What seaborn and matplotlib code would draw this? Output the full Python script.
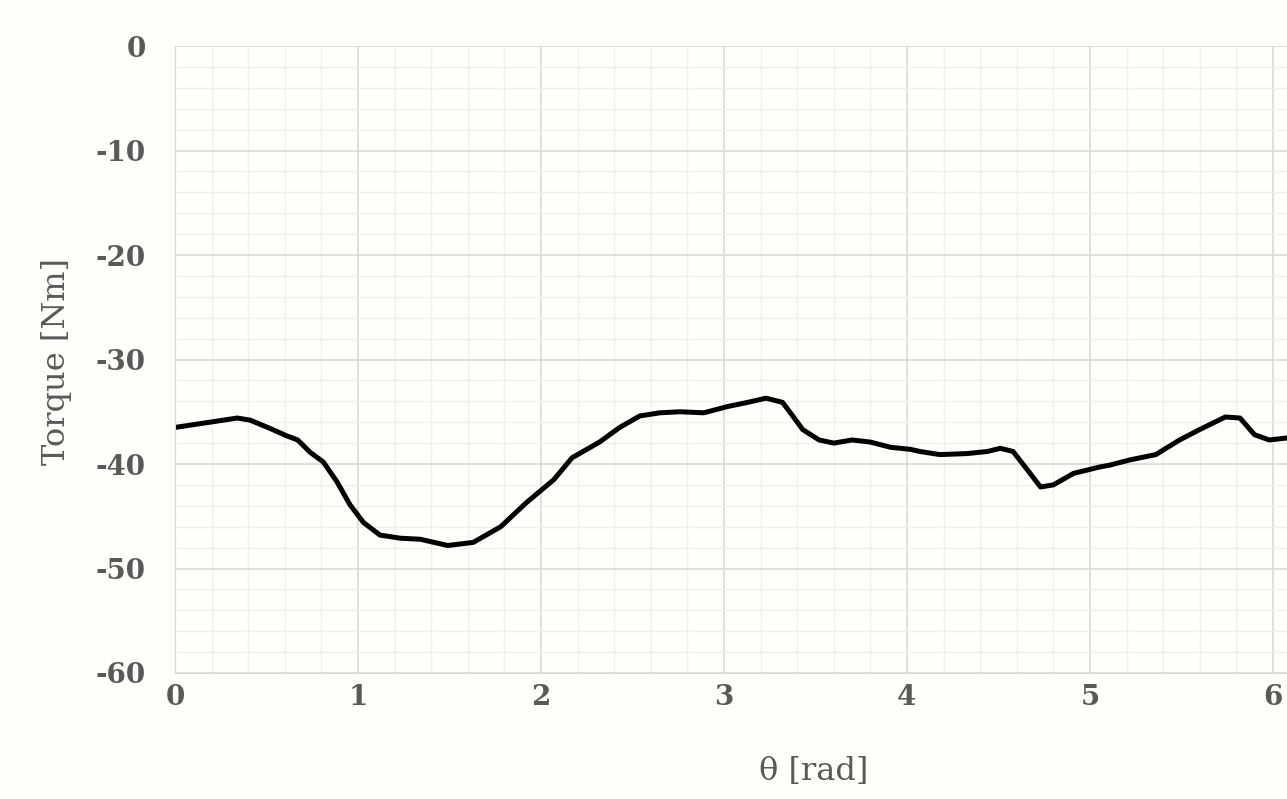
import numpy as np
import pandas as pd
import matplotlib
matplotlib.use("Agg")
import matplotlib.pyplot as plt
from matplotlib.ticker import MultipleLocator
import seaborn as sns

theta = [0.00, 0.19, 0.34, 0.41, 0.52, 0.61, 0.67, 0.74, 0.81, 0.885, 0.956,
         1.03, 1.12, 1.23, 1.34, 1.49, 1.63, 1.78, 1.92, 2.07, 2.17, 2.32,
         2.43, 2.54, 2.65, 2.76, 2.89, 3.02, 3.13, 3.23, 3.32, 3.38, 3.43,
         3.52, 3.60, 3.70, 3.80, 3.91, 4.02, 4.07, 4.18, 4.33, 4.44, 4.51,
         4.58, 4.66, 4.73, 4.80, 4.91, 5.05, 5.11, 5.22, 5.36, 5.49, 5.60,
         5.74, 5.82, 5.90, 5.98, 6.08, 6.28]
torque = [-36.5, -36.0, -35.6, -35.8, -36.6, -37.3, -37.7, -38.9, -39.8, -41.7,
          -43.9, -45.6, -46.8, -47.1, -47.2, -47.8, -47.5, -46.0, -43.7, -41.5,
          -39.4, -37.9, -36.5, -35.4, -35.1, -35.0, -35.1, -34.5, -34.1, -33.7,
          -34.1, -35.5, -36.7, -37.7, -38.0, -37.7, -37.9, -38.4, -38.6, -38.8,
          -39.1, -39.0, -38.8, -38.5, -38.8, -40.6, -42.2, -42.0, -40.9, -40.3,
          -40.1, -39.6, -39.1, -37.7, -36.7, -35.5, -35.6, -37.2, -37.7, -37.5,
          -36.5]

df = pd.DataFrame({"theta": theta, "torque": torque})

sns.set_style("white")
plt.rcParams['font.family'] = ['DejaVu Serif', 'DejaVu Sans']
plt.rcParams['axes.unicode_minus'] = False

bg = "#FEFEFA"
fig = plt.figure(figsize=(12.87, 7.99), dpi=100, facecolor=bg)
ax = fig.add_axes([0.136, 0.1577, 0.864, 0.7847])
ax.set_facecolor(bg)

sns.lineplot(data=df, x="theta", y="torque", ax=ax, color="black",
             linewidth=3.6, solid_joinstyle="round", solid_capstyle="round")

ax.set_xlim(0, 6.077)
ax.set_ylim(-60, 0)
ax.xaxis.set_major_locator(MultipleLocator(1))
ax.xaxis.set_minor_locator(MultipleLocator(0.2))
ax.yaxis.set_major_locator(MultipleLocator(10))
ax.yaxis.set_minor_locator(MultipleLocator(2))
ax.grid(which="major", color="#D9D9D9", linewidth=1.2)
ax.grid(which="minor", color="#EFEFEF", linewidth=1.0)
ax.set_axisbelow(True)
for s in ax.spines.values():
    s.set_visible(False)
ax.spines["left"].set_visible(True)
ax.spines["bottom"].set_visible(True)
ax.spines["left"].set_color("#D9D9D9")
ax.spines["bottom"].set_color("#D9D9D9")
ax.tick_params(which="both", length=0)
ax.tick_params(axis="y", pad=21, labelsize=20, labelcolor="#595959")
ax.tick_params(axis="x", pad=8, labelsize=20, labelcolor="#595959")
for lab in ax.get_xticklabels() + ax.get_yticklabels():
    lab.set_fontweight("bold")

ax.set_xlabel("θ [rad]", fontsize=23, color="#595959")
ax.xaxis.set_label_coords(0.574, -0.133)
ax.set_ylabel("Torque [Nm]", fontsize=23, color="#595959")
ax.yaxis.set_label_coords(-0.093, 0.497)

fig.savefig("out.png", dpi=100, facecolor=bg)
